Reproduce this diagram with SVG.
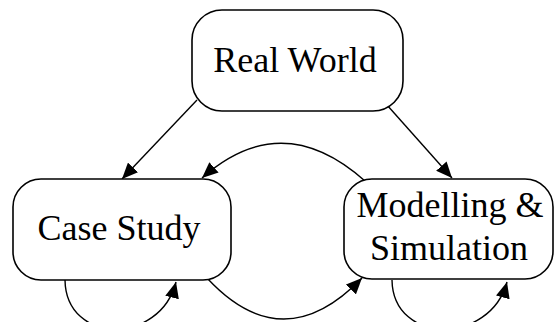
<svg xmlns="http://www.w3.org/2000/svg" width="554" height="322" viewBox="0 0 554 322">
<defs>
<style>
.box{fill:#fff;stroke:#000;stroke-width:1.6}
.lbl{font-family:"Liberation Serif","Times New Roman",serif;font-size:36px;fill:#000;text-anchor:middle}
.edge{fill:none;stroke:#000;stroke-width:1.4;marker-end:url(#ah)}
</style>
<marker id="ah" markerUnits="userSpaceOnUse" markerWidth="17" markerHeight="14" refX="16" refY="7" orient="auto" viewBox="0 0 17 14">
<path d="M0,0 L16,7 L0,14 z" fill="#000"/>
</marker>
</defs>
<rect width="554" height="322" fill="#fff"/>
<g id="connectors">
<path class="edge" d="M197,100 L122,179"/>
<path class="edge" d="M387,105 L452,178"/>
<path class="edge" d="M365,181 Q282,107 202,178"/>
<path class="edge" d="M207,278 Q283,360 362,278"/>
<path class="edge" d="M65,280 C66,345 160,345 176,282"/>
<path class="edge" d="M392,280 C393,345 490,345 507,282"/>
</g>
<g id="real-world">
<rect class="box" x="192" y="10" width="211" height="101" rx="30" ry="30"/>
<text class="lbl" x="295" y="72">Real World</text>
</g>
<g id="case-study">
<rect class="box" x="13" y="179" width="218" height="101" rx="28" ry="28"/>
<text class="lbl" x="119" y="240">Case Study</text>
</g>
<g id="modelling-simulation">
<rect class="box" x="344" y="179" width="209" height="100" rx="28" ry="28"/>
<text class="lbl" x="450" y="217">Modelling &amp;</text>
<text class="lbl" x="449" y="260">Simulation</text>
</g>
</svg>
